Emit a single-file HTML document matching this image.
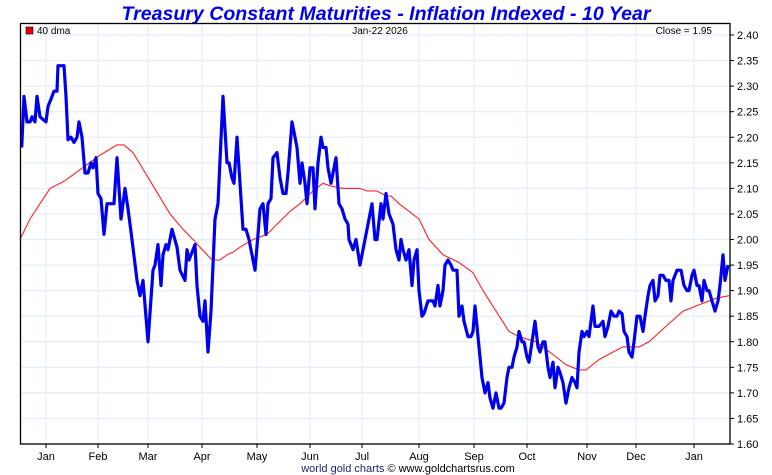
<!DOCTYPE html>
<html><head><meta charset="utf-8"><style>
html,body{margin:0;padding:0;background:#fff;}
svg{display:block;font-family:"Liberation Sans",sans-serif;}
</style></head><body>
<svg id="chart" width="772" height="475" viewBox="0 0 772 475">
<rect x="0" y="0" width="772" height="475" fill="#fff"/>
<text x="386" y="20" text-anchor="middle" font-size="19" font-weight="bold" font-style="italic" fill="#0000ee" textLength="529" lengthAdjust="spacingAndGlyphs">Treasury Constant Maturities - Inflation Indexed - 10 Year</text>
<g id="grid"></g>
<g id="series"></g>
<rect x="20.5" y="23.5" width="709.5" height="420.5" fill="none" stroke="#000" stroke-width="1.3"/>
<g id="axes"></g>
<rect x="26" y="27" width="7" height="7" fill="#ee0000" stroke="#000" stroke-width="0.6"/>
<text x="37" y="34" font-size="10" fill="#000">40 dma</text>
<text x="380" y="34" text-anchor="middle" font-size="10" fill="#000">Jan-22  2026</text>
<text x="712" y="34" text-anchor="end" font-size="10" fill="#000">Close = 1.95</text>
<text x="408" y="472" text-anchor="middle" font-size="11"><tspan fill="#1a2a66">world gold charts</tspan><tspan fill="#000"> © www.goldchartsrus.com</tspan></text>
</svg>
<script>
const yTicks=[1.60,1.65,1.70,1.75,1.80,1.85,1.90,1.95,2.00,2.05,2.10,2.15,2.20,2.25,2.30,2.35,2.40];
const monthLabels=["Jan","Feb","Mar","Apr","May","Jun","Jul","Aug","Sep","Oct","Nov","Dec","Jan"];
const monthTime=[46,98,148,202,257,310,362,419,474,527,587,636,694];
const tradeTime=[21.7,24,27,30,32,35,37,40,43,46,48,52,54,57,58,61,64,66,68,71,74,77,79,82,85,88,91,93,96,98,101,104,
107,112,114,117,121,125,128,132,137,140,143,148,153,155,158,161,163,166,168,172,177,180,185,187,189,195,197,200,203,205,
208,211,213,215,218,223,227,229,232,234,237,240,243,246,249,255,258,260,263,266,268,271,273,277,280,283,286,288,292,294,
297,300,302,305,307,310,313,315,318,321,323,326,328,331,333,336,339,342,345,348,349,353,356,360,365,372,375,377,381,383,
386,389,393,396,399,401,403,406,409,412,414,417,419,422,424,428,433,435,438,440,443,445,448,451,453,457,459,462,464,468,
471,473,475,477,479,482,485,488,490,493,496,499,501,504,507,509,512,514,517,519,522,524,527,529,532,535,538,540,543,545,
548,550,553,555,558,560,563,566,569,572,575,577,579,582,584,587,589,593,595,599,603,605,608,611,614,617,619,622,624,627,
629,632,634,637,640,643,645,648,650,653,655,658,660,663,666,669,671,673,677,681,684,687,689,692,694,697,699,702,704,707,
709,712,715,718,720,723,725,728];
const yieldValues=[2.18,2.28,2.23,2.23,2.24,2.23,2.28,2.24,2.235,2.23,2.26,2.28,2.29,2.29,2.34,2.34,2.34,2.28,2.195,2.20,2.19,2.20,2.23,2.20,2.13,2.13,2.15,2.14,2.16,2.09,2.08,2.01,
2.07,2.07,2.07,2.16,2.04,2.10,2.06,2.00,1.92,1.89,1.92,1.80,1.94,1.95,1.99,1.91,1.97,1.99,1.98,2.02,
1.985,1.94,1.92,1.98,1.96,1.99,1.91,1.85,1.84,1.88,1.78,1.86,1.95,2.04,2.07,2.28,2.15,2.15,2.12,2.11,
2.20,2.11,2.02,2.02,2.00,1.94,2.01,2.06,2.07,2.01,2.07,2.08,2.16,2.17,2.12,2.09,2.09,2.13,2.23,2.21,
2.18,2.11,2.15,2.11,2.07,2.14,2.14,2.06,2.15,2.20,2.18,2.18,2.14,2.11,2.13,2.16,2.07,2.06,2.04,2.03,
2.00,1.98,2.00,1.95,2.00,2.07,2.00,2.00,2.07,2.04,2.09,2.05,2.03,1.98,1.96,2.00,1.98,1.96,1.98,1.91,
1.96,1.98,1.90,1.85,1.855,1.88,1.88,1.87,1.91,1.87,1.90,1.95,1.96,1.95,1.94,1.94,1.85,1.87,1.84,1.81,
1.81,1.82,1.87,1.83,1.79,1.73,1.70,1.72,1.69,1.67,1.70,1.67,1.67,1.68,1.73,1.75,1.75,1.77,1.79,1.82,
1.80,1.80,1.77,1.76,1.80,1.84,1.79,1.78,1.80,1.80,1.75,1.73,1.76,1.71,1.75,1.74,1.72,1.68,1.71,1.73,
1.72,1.71,1.78,1.82,1.81,1.82,1.81,1.87,1.83,1.83,1.84,1.81,1.83,1.86,1.85,1.85,1.86,1.855,1.82,1.81,
1.78,1.77,1.80,1.85,1.85,1.82,1.85,1.89,1.91,1.92,1.88,1.89,1.93,1.93,1.92,1.92,1.88,1.92,1.94,1.94,
1.91,1.90,1.90,1.93,1.94,1.91,1.91,1.88,1.92,1.90,1.90,1.88,1.86,1.88,1.91,1.97,1.92,1.95];
const maTime=[20,30,40,50,65,100,117,124,133,150,170,183,193,200,212,220,227,233,240,253,267,277,290,300,313,323,330,343,360,367,377,386,391,399,419,429,443,459,473,483,496,509,519,536,553,566,579,586,599,613,623,639,649,663,683,696,716,729];
const maValues=[2.00,2.04,2.07,2.10,2.115,2.165,2.185,2.185,2.17,2.115,2.05,2.02,2.00,1.985,1.96,1.96,1.97,1.975,1.985,2.00,2.01,2.03,2.055,2.07,2.095,2.11,2.105,2.10,2.10,2.095,2.095,2.085,2.085,2.07,2.04,2.00,1.97,1.955,1.935,1.90,1.86,1.82,1.81,1.80,1.775,1.755,1.745,1.745,1.765,1.78,1.79,1.79,1.80,1.825,1.86,1.87,1.885,1.89];

const NS="http://www.w3.org/2000/svg";
const X0=20.5,X1=730,Y0=23.5,Y1=444;
const tMin=20.5,tMax=730;
function xs(t){return X0+(t-tMin)/(tMax-tMin)*(X1-X0);}
function ys(v){return 444-(v-1.60)/(2.40-1.60)*409;}
function mk(tag,attrs,parent){const e=document.createElementNS(NS,tag);for(const k in attrs)e.setAttribute(k,attrs[k]);parent.appendChild(e);return e;}
const grid=document.getElementById('grid'),axes=document.getElementById('axes'),series=document.getElementById('series');
yTicks.forEach((v,i)=>{
  const y=ys(v);
  const g=mk('line',{x1:X0,x2:X1,y1:y,y2:y,stroke:'#e2eef9','stroke-width':1.2},grid);
  
  
  const tk=mk('line',{x1:X1,x2:X1+4,y1:y,y2:y,stroke:'#000','stroke-width':1},axes);
  
  
  const tx=mk('text',{x:737,y:y+4,'font-size':11,fill:'#000'},axes);
  tx.textContent=v.toFixed(2);
  
  
});
monthTime.forEach((t,i)=>{
  const x=xs(t);
  const g=mk('line',{x1:x,x2:x,y1:Y0,y2:Y1,stroke:'#e2eef9','stroke-width':1.2},grid);
  
  
  const tk=mk('line',{x1:x,x2:x,y1:Y1,y2:Y1+4,stroke:'#000','stroke-width':1},axes);
  
  
  const tx=mk('text',{x:x,y:460,'font-size':11,'text-anchor':'middle',fill:'#000'},axes);
  tx.textContent=monthLabels[i];
  
  
});
function pathFrom(ts,vs){let d='';const n=Math.min(ts.length,vs.length);for(let i=0;i<n;i++){d+=(i?'L':'M')+xs(ts[i]).toFixed(1)+','+ys(vs[i]).toFixed(1);}return d;}
const ma=mk('path',{d:pathFrom(maTime,maValues),fill:'none',stroke:'#ff2020','stroke-width':1.1},series);


const ln=mk('path',{d:pathFrom(tradeTime,yieldValues),fill:'none',stroke:'#0000ee','stroke-width':3.2,'stroke-linejoin':'round'},series);


</script>
</body></html>
